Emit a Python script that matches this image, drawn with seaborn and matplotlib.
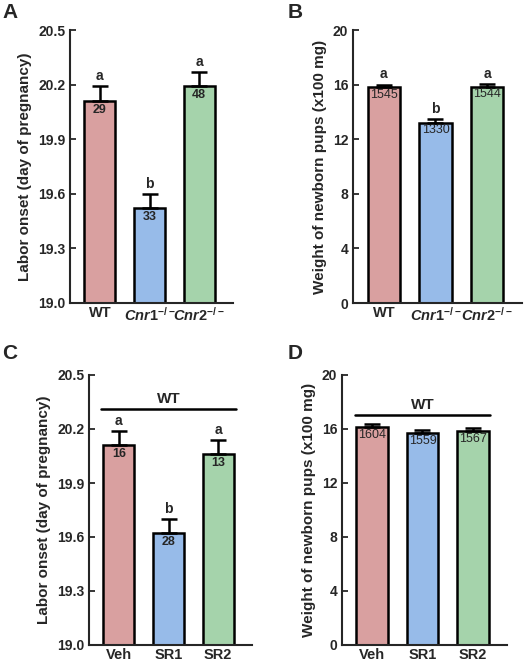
import matplotlib
matplotlib.use("Agg")
import matplotlib.pyplot as plt
import seaborn as sns
import pandas as pd

sns.set_style("ticks")
plt.rcParams["font.family"] = ["Liberation Sans", "DejaVu Sans"]
plt.rcParams["font.weight"] = "bold"
plt.rcParams["mathtext.fontset"] = "custom"
plt.rcParams["mathtext.it"] = "Liberation Sans:bold:italic"
plt.rcParams["mathtext.rm"] = "Liberation Sans:bold"

colors = ["#d9a0a0", "#97bbe9", "#a5d3ab"]

geno = ["WT", r"$\mathit{Cnr1}^{-/-}$", r"$\mathit{Cnr2}^{-/-}$"]
drug = ["Veh", "SR1", "SR2"]

onset_a = [20.11, 19.52, 20.19]
onset_a_err = [0.08, 0.08, 0.08]
onset_a_n = ["29", "33", "48"]
onset_a_sig = ["a", "b", "a"]

weight_b = [15.8, 13.2, 15.85]
weight_b_err = [0.2, 0.25, 0.2]
weight_b_n = ["1545", "1330", "1544"]
weight_b_sig = ["a", "b", "a"]

onset_c = [20.11, 19.62, 20.06]
onset_c_err = [0.08, 0.08, 0.08]
onset_c_n = ["16", "28", "13"]
onset_c_sig = ["a", "b", "a"]

weight_d = [16.15, 15.7, 15.85]
weight_d_err = [0.2, 0.2, 0.2]
weight_d_n = ["1604", "1559", "1567"]

W, H = 527, 665
fig = plt.figure(figsize=(W / 100, H / 100), dpi=100)


def axes_px(l, t, r, b):
    return fig.add_axes([l / W, 1 - b / H, (r - l) / W, (b - t) / H])


def panel(ax, labels, vals, errs, ns, sigs, ylim, ticks, fmt, ylabel, ndy):
    df = pd.DataFrame({"g": labels, "v": vals})
    sns.barplot(data=df, x="g", y="v", hue="g", palette=colors, width=0.63,
                saturation=1, edgecolor="black", linewidth=1.8, legend=False, ax=ax)
    ax.errorbar(range(3), vals, yerr=[[0] * 3, errs], fmt="none",
                ecolor="black", elinewidth=1.8, capsize=6, capthick=1.8)
    rng = ylim[1] - ylim[0]
    for i in range(3):
        ax.text(i, vals[i] - ndy * rng, ns[i], ha="center", va="top",
                fontsize=9, fontweight="normal" if len(ns[i]) > 2 else "bold")
        if sigs:
            ax.text(i, vals[i] + errs[i] + 0.012 * rng, sigs[i], ha="center",
                    va="bottom", fontsize=10, fontweight="bold")
    ax.set_ylim(*ylim)
    ax.set_yticks(ticks)
    ax.set_yticklabels([fmt.format(t) for t in ticks], fontsize=10, fontweight="bold")
    ax.set_xlim(-0.6, 2.68)
    ax.set_xticks(range(3))
    ax.set_xticklabels(labels, fontsize=10.5, fontweight="bold")
    ax.tick_params(axis="x", length=0, pad=2)
    ax.tick_params(axis="y", direction="in", length=4, width=1.3)
    ax.set_xlabel("")
    ax.set_ylabel(ylabel, fontsize=11, fontweight="bold")
    for s in ["left", "bottom"]:
        ax.spines[s].set_linewidth(1.5)
    sns.despine(ax=ax)


onset_ticks = [19.0, 19.3, 19.6, 19.9, 20.2, 20.5]
weight_ticks = [0, 4, 8, 12, 16, 20]
lab_on = "Labor onset (day of pregnancy)"
lab_w = "Weight of newborn pups (x100 mg)"

axA = axes_px(70, 30, 233, 303)
panel(axA, geno, onset_a, onset_a_err, onset_a_n, onset_a_sig, (19.0, 20.5),
      onset_ticks, "{:.1f}", lab_on, 0.01)
axB = axes_px(353, 30, 522, 303)
panel(axB, geno, weight_b, weight_b_err, weight_b_n, weight_b_sig, (0, 20),
      weight_ticks, "{:.0f}", lab_w, 0.006)
axC = axes_px(89, 375, 252, 645)
panel(axC, drug, onset_c, onset_c_err, onset_c_n, onset_c_sig, (19.0, 20.5),
      onset_ticks, "{:.1f}", lab_on, 0.01)
axD = axes_px(342, 375, 507, 645)
panel(axD, drug, weight_d, weight_d_err, weight_d_n, None, (0, 20),
      weight_ticks, "{:.0f}", lab_w, 0.006)

# WT bracket lines
axC.plot([-0.35, 2.35], [20.31, 20.31], color="black", lw=1.8, clip_on=False)
axC.text(1, 20.33, "WT", ha="center", va="bottom", fontsize=11, fontweight="bold")
axD.plot([-0.35, 2.35], [17.05, 17.05], color="black", lw=1.8, clip_on=False)
axD.text(1, 17.25, "WT", ha="center", va="bottom", fontsize=11, fontweight="bold")

for lbl, x, y in [("A", 2, 12), ("B", 288, 12), ("C", 2, 353), ("D", 288, 353)]:
    fig.text(x / W, 1 - y / H, lbl, fontsize=15, fontweight="bold", va="center")

fig.savefig("out.png", dpi=100)
